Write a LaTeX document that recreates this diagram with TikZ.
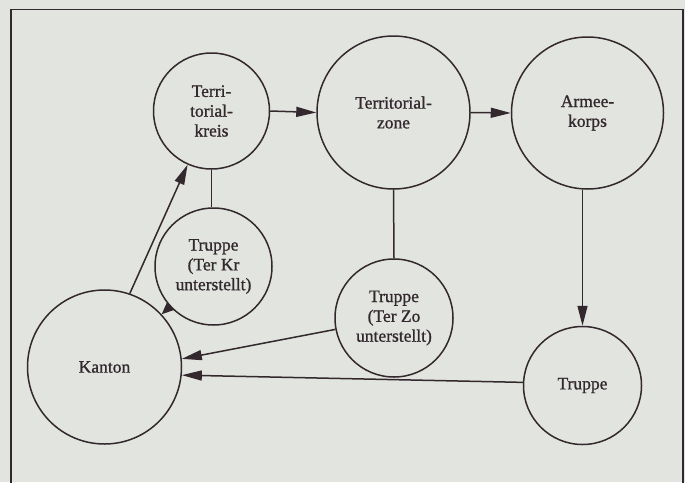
\documentclass[tikz,border=0pt]{standalone}
\usepackage{fontspec}
\setmainfont{Liberation Serif}
\newfontfamily\labelfont{Liberation Serif}[BoldFont={Liberation Serif}, BoldFeatures={FakeBold=1.0}]
\usetikzlibrary{arrows.meta}
\definecolor{bgc}{RGB}{226,228,223}
\definecolor{ink}{RGB}{50,40,46}
\tikzset{
  bubble/.style={circle, draw=ink, line width=1.5pt, inner sep=0pt, align=center,
    text=ink, font=\labelfont\bfseries\fontsize{17.5}{19.8}\selectfont},
  conn/.style={draw=ink, line width=1.5pt},
  arr/.style={conn, -{Triangle[length=20pt,width=10pt]}},
  sarr/.style={conn, -{Triangle[length=12pt,width=10pt]}}
}
\begin{document}
\begin{tikzpicture}[x=1pt,y=-1pt]
\useasboundingbox (0,0) rectangle (685,482);
\fill[bgc] (0,0) rectangle (685,482);
\draw[ink, line width=1.3pt] (11,500) -- (11,9.5) -- (683,9.5) -- (683,500);

\node[bubble, minimum size=116pt] (tkreis) at (211.5,111) {Terri-\\torial-\\kreis};
\node[bubble, minimum size=153pt] (tzone) at (393.5,112.5) {Territorial-\\zone};
\node[bubble, minimum size=152pt] (armee) at (587.5,113) {Armee-\\korps};
\node[bubble, minimum size=117pt] (tkr) at (213.5,266.5) {Truppe\\(Ter Kr\\unterstellt)};
\node[bubble, minimum size=118pt] (tzo) at (394,318) {Truppe\\(Ter Zo\\unterstellt)};
\node[bubble, minimum size=118pt] (truppe) at (582.5,385.5) {Truppe};
\node[bubble, minimum size=154pt] (kanton) at (104.5,367) {Kanton};

\draw[arr] (tkreis.east) -- (tzone.west);
\draw[arr] (tzone.east) -- (armee.west);
\draw[arr] (truppe.north |- armee.south) -- (truppe.north);
\draw[conn] (tkreis.south) -- (tkreis.south |- tkr.north);
\draw[conn] (tzone.south) -- (tzo.north);
\draw[arr] (kanton.71.7) -- (tkreis.246.4);
\draw[sarr] (tkr) -- (kanton);
\draw[arr] (tzo.191.5) -- (kanton.6.7);
\draw[arr] (truppe.177.6) -- (kanton.-6.7);
\end{tikzpicture}
\end{document}
